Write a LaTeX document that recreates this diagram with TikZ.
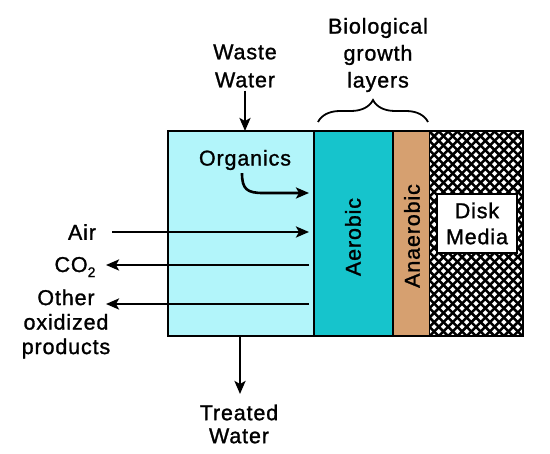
\documentclass[tikz,border=0pt]{standalone}
\usepackage{fontspec}
\setmainfont[LetterSpace=4,FakeBold=1.2]{Liberation Sans}
\usetikzlibrary{arrows.meta,decorations.pathreplacing}
\definecolor{water}{RGB}{178,245,250}
\definecolor{aero}{RGB}{22,196,204}
\definecolor{anaero}{RGB}{214,160,112}
\begin{document}
\begin{tikzpicture}[x=1pt,y=-1pt,
  lbl/.style={font=\fontsize{21.5}{26}\selectfont, align=center, inner sep=0pt},
  flow/.style={line width=2.6pt,-{Stealth[length=13pt,width=11pt,inset=3pt]}},
  bdr/.style={line width=2.6pt}]
\useasboundingbox (0,0) rectangle (550,454);
\fill[white] (0,0) rectangle (550,454);
% regions
\fill[water] (168,131) rectangle (314,336);
\fill[aero] (314,131) rectangle (393,336);
\fill[anaero] (393,131) rectangle (429,336);
\fill[white] (429,131) rectangle (523,336);
\begin{scope}
  \clip (429,131) rectangle (523,336);
  \foreach \i in {-25,...,12} {
    \draw[line width=2.5pt] (429+\i*9.3,131) -- ++(220,220);
    \draw[line width=2.5pt] (523-\i*9.3,131) -- ++(-220,220);
  }
\end{scope}
\draw[bdr] (314,131) -- (314,336);
\draw[bdr] (393,131) -- (393,336);
\draw[line width=1pt] (429,131) -- (429,336);
\draw[bdr] (168,131) rectangle (523,336);
% labels
\node[lbl, font=\fontsize{21.5}{28}\selectfont] (ww) at (245,66) {Waste\\Water};
\node[lbl, font=\fontsize{21.5}{27}\selectfont] (bio) at (378,55) {Biological\\growth\\layers};
\node[lbl, font=\fontsize{21.5}{23}\selectfont] (tw) at (239,424) {Treated\\Water};
\node[lbl] (org) at (245,160) {Organics};
\node[lbl] (air) at (82,232) {Air};
\node[lbl, anchor=base] (co2) at (75,272) {CO\raisebox{-0.45ex}{\fontsize{14}{14}\selectfont 2}};
\node[lbl, font=\fontsize{21.5}{24.5}\selectfont] (oth) at (66,324) {Other\\oxidized\\products};
\node[lbl, rotate=90] (aer) at (353,237) {Aerobic};
\node[lbl, rotate=90] (ana) at (412,236) {Anaerobic};
\node[lbl, draw, bdr, fill=white, minimum width=80pt, minimum height=59pt] (disk) at (477,223.5) {Disk\\Media};
% connector coordinates
\coordinate (wwin) at (245,131);
\coordinate (twout) at (240,336);
\coordinate (orgin) at (309,193);
\coordinate (airin) at (309,232);
\coordinate (co2src) at (309,265);
\coordinate (othsrc) at (309,304);
\coordinate (co2tip) at (106,265);
\coordinate (othtip) at (106,304);
\coordinate (bl) at (318,122);
\coordinate (br) at (428,122);
% connectors
\draw[flow] (ww.south) ++(0,3) -- (wwin);
\draw[flow] (twout) -- (240,394) coordinate (twtip);
\draw[flow] (org.south) ++(-3,3) .. controls +(0,16) and +(-16,0) .. (263,193) -- (orgin);
\draw[flow, shorten <=16pt] (air.east) -- (airin);
\draw[flow] (co2src) -- (co2tip);
\draw[flow] (othsrc) -- (othtip);
\draw[line width=1.8pt, decorate, decoration={brace, amplitude=22pt}] (bl) -- (br);
\end{tikzpicture}
\end{document}
